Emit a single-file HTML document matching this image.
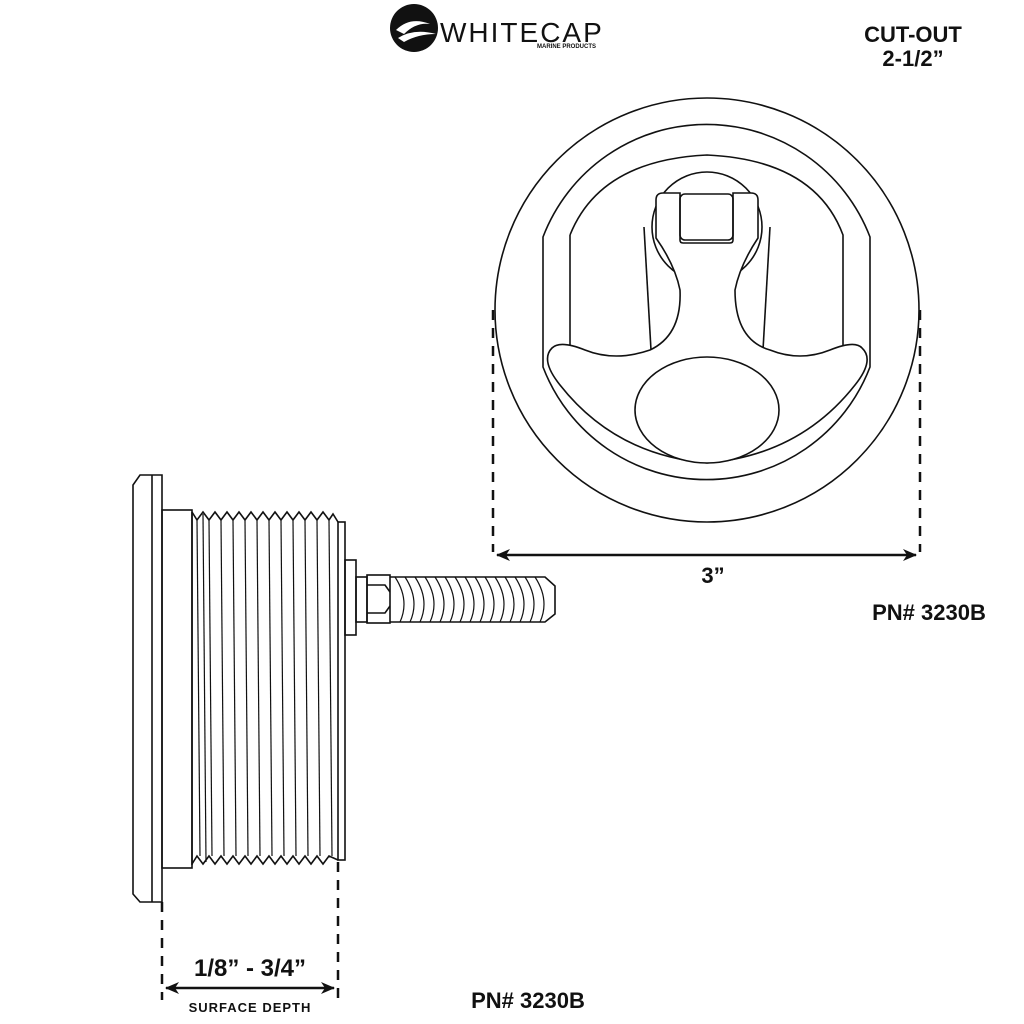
<!DOCTYPE html>
<html><head><meta charset="utf-8"><style>
body{margin:0;background:#fff}
svg{display:block}
text{font-family:"Liberation Sans",sans-serif;font-weight:bold;fill:#111}
</style></head><body>
<svg width="1024" height="1024" viewBox="0 0 1024 1024" xmlns="http://www.w3.org/2000/svg">
<defs>
<marker id="ah" markerWidth="14" markerHeight="12" refX="13" refY="6" orient="auto-start-reverse" markerUnits="userSpaceOnUse">
<path d="M0,0 L14,6 L0,12 L4,6 Z" fill="#111"/></marker>
</defs>
<!-- logo -->
<circle cx="414" cy="28" r="24" fill="#111"/>
<path d="M396,30 Q410,16 430,24 Q416,22 404,34 Z" fill="#fff"/>
<path d="M398,38 Q414,28 436,34 Q418,34 404,42 Z" fill="#fff"/>
<text x="440" y="42" font-size="28" style="font-weight:normal;letter-spacing:2px">WHITECAP</text>
<text x="537" y="48" font-size="6">MARINE PRODUCTS</text>
<text x="913" y="42" font-size="22" text-anchor="middle">CUT-OUT</text>
<text x="913" y="66" font-size="22" text-anchor="middle">2-1/2”</text>

<g fill="none" stroke="#111" stroke-width="1.6">
<!-- top view -->
<circle cx="707" cy="310" r="212"/>
<path d="M543,237 A175,175 0 0 1 870,237 L870,367 A175,175 0 0 1 543,367 Z"/>
<path d="M570,235 Q600,160 707,155 Q815,160 843,235 L843,345"/>
<path d="M570,235 L570,345"/>
<circle cx="707" cy="227" r="55"/>
<line x1="644" y1="227" x2="651" y2="350"/>
<line x1="770" y1="227" x2="763" y2="350"/>
<path d="M656,200 Q656,193 663,193 L680,193 L680,240 Q680,243 683,243 L730,243 Q733,243 733,240 L733,193 L751,193 Q758,193 758,200 L758,238 Q740,265 735,290 Q735,340 770,350 Q800,362 830,350 Q855,340 862,348 Q875,360 855,385 Q800,455 707,463 Q615,455 560,385 Q540,360 552,348 Q560,340 585,350 Q615,362 650,350 Q682,335 680,290 Q675,265 656,238 Z" fill="#fff"/>
<rect x="680" y="194" width="53" height="46" rx="5"/>
<ellipse cx="707" cy="410" rx="72" ry="53" fill="#fff"/>
</g>
<g stroke="#111" stroke-width="2.5" stroke-dasharray="10,8">
<line x1="493" y1="310" x2="493" y2="552"/>
<line x1="920" y1="310" x2="920" y2="552"/>
<line x1="162" y1="902" x2="162" y2="1000"/>
<line x1="338" y1="862" x2="338" y2="1000"/>
</g>
<line x1="497" y1="555" x2="916" y2="555" stroke="#111" stroke-width="2.5" marker-start="url(#ah)" marker-end="url(#ah)"/>
<text x="713" y="583" font-size="22" text-anchor="middle">3”</text>
<text x="929" y="620" font-size="22" text-anchor="middle">PN# 3230B</text>

<!-- side view -->
<g fill="none" stroke="#111" stroke-width="1.6">
<path d="M162,475 L140,475 L133,485 L133,894 L140,902 L162,902 Z"/>
<line x1="152" y1="475" x2="152" y2="902"/>
<rect x="162" y="510" width="30" height="358"/>
<path d="M192,512 L197,520 L203,512 L209,520 L215,512 L221,520 L227,512 L233,520 L239,512 L245,520 L251,512 L257,520 L263,512 L269,520 L275,512 L281,520 L287,512 L293,520 L299,512 L305,520 L311,512 L317,520 L323,512 L329,520 L333,514 L338,522"/>
<path d="M192,864 L197,856 L203,864 L209,856 L215,864 L221,856 L227,864 L233,856 L239,864 L245,856 L251,864 L257,856 L263,864 L269,856 L275,864 L281,856 L287,864 L293,856 L299,864 L305,856 L311,864 L317,856 L323,864 L329,856 L338,860"/>
<line x1="192" y1="512" x2="192" y2="865"/>
<g stroke-width="1.2">
<line x1="197" y1="520" x2="200" y2="856"/><line x1="203" y1="514" x2="206" y2="862"/>
<line x1="209" y1="520" x2="212" y2="856"/><line x1="221" y1="520" x2="224" y2="856"/>
<line x1="233" y1="520" x2="236" y2="856"/><line x1="245" y1="520" x2="248" y2="856"/>
<line x1="257" y1="520" x2="260" y2="856"/><line x1="269" y1="520" x2="272" y2="856"/>
<line x1="281" y1="520" x2="284" y2="856"/><line x1="293" y1="520" x2="296" y2="856"/>
<line x1="305" y1="520" x2="308" y2="856"/><line x1="317" y1="520" x2="320" y2="856"/>
<line x1="329" y1="520" x2="332" y2="856"/>
</g>
<rect x="338" y="522" width="7" height="338"/>
<rect x="345" y="560" width="11" height="75"/>
<rect x="356" y="577" width="11" height="45"/>
<rect x="367" y="575" width="23" height="48"/>
<path d="M367,585 L385,585 L390,592 M367,613 L385,613 L390,606"/>
<path d="M390,577 L545,577 L555,586 L555,614 L545,622 L390,622"/>
<g stroke-width="1.2">
<path d="M395,577 Q410,600 400,622 M405,577 Q420,600 410,622 M415,577 Q430,600 420,622 M425,577 Q440,600 430,622 M435,577 Q450,600 440,622 M445,577 Q460,600 450,622 M455,577 Q470,600 460,622 M465,577 Q480,600 470,622 M475,577 Q490,600 480,622 M485,577 Q500,600 490,622 M495,577 Q510,600 500,622 M505,577 Q520,600 510,622 M515,577 Q530,600 520,622 M525,577 Q540,600 530,622 M535,577 Q550,600 540,622"/>
</g>
</g>
<text x="250" y="976" font-size="24" text-anchor="middle">1/8” - 3/4”</text>
<line x1="166" y1="988" x2="334" y2="988" stroke="#111" stroke-width="2.5" marker-start="url(#ah)" marker-end="url(#ah)"/>
<text x="250" y="1012" font-size="13" text-anchor="middle" style="letter-spacing:1px">SURFACE DEPTH</text>
<text x="528" y="1008" font-size="22" text-anchor="middle">PN# 3230B</text>
</svg>
</body></html>
